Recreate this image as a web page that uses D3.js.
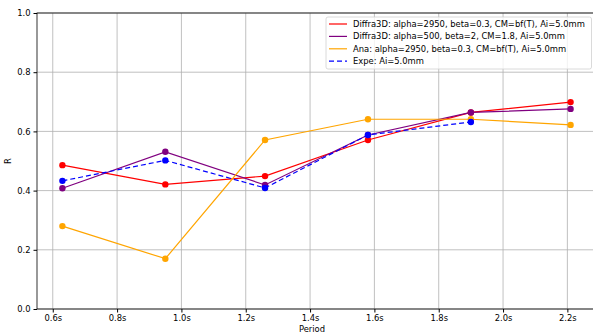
<!DOCTYPE html>
<html>
<head>
<meta charset="utf-8">
<script src="https://cdn.jsdelivr.net/npm/d3@7"></script>
<style>
  body { margin: 0; background: #fff; }
  svg { display: block; font-family: "DejaVu Sans", sans-serif; }
</style>
</head>
<body>
<svg width="593" height="333"></svg>
<script>
// periods (s)
var periods = [0.63, 0.95, 1.26, 1.58, 1.9, 2.21];
var diffraRed = [0.486, 0.421, 0.449, 0.571, 0.664, 0.699];
var diffraPurple = [0.408, 0.531, 0.419, 0.588, 0.664, 0.676];
var anaOrange = [0.280, 0.170, 0.571, 0.641, 0.641, 0.622];
var expeBlue = [0.433, 0.502, 0.409, 0.588, 0.632];
var xTicks = [0.6, 0.8, 1.0, 1.2, 1.4, 1.6, 1.8, 2.0, 2.2];
var yTicks = [0.0, 0.2, 0.4, 0.6, 0.8, 1.0];

var series = [
  { name: "Diffra3D: alpha=2950, beta=0.3, CM=bf(T), Ai=5.0mm", values: diffraRed, colour: "red", dash: null },
  { name: "Diffra3D: alpha=500, beta=2, CM=1.8, Ai=5.0mm", values: diffraPurple, colour: "purple", dash: null },
  { name: "Ana: alpha=2950, beta=0.3, CM=bf(T), Ai=5.0mm", values: anaOrange, colour: "orange", dash: null },
  { name: "Expe: Ai=5.0mm", values: expeBlue, colour: "blue", dash: "5,3" }
];

const margin = { top: 13, right: -3, bottom: 24, left: 37 };
const width = 593, height = 333;
const fontSize = 8.4;

var svg = d3.select('svg');

var x = d3.scaleLinear()
  .domain([0.551, 2.289])
  .range([margin.left, width - margin.right]);
var y = d3.scaleLinear()
  .domain([0, 1])
  .range([height - margin.bottom, margin.top]);

// grid
svg.append('g')
  .selectAll('line.vgrid')
  .data(xTicks)
  .enter()
  .append('line')
  .attr('x1', d => x(d)).attr('x2', d => x(d))
  .attr('y1', y(0)).attr('y2', y(1))
  .attr('stroke', '#b0b0b0').attr('stroke-width', 0.8);

svg.append('g')
  .selectAll('line.hgrid')
  .data(yTicks)
  .enter()
  .append('line')
  .attr('x1', x.range()[0]).attr('x2', x.range()[1])
  .attr('y1', d => y(d)).attr('y2', d => y(d))
  .attr('stroke', '#b0b0b0').attr('stroke-width', 0.8);

// axes
var xAxis = d3.axisBottom(x)
  .tickValues(xTicks)
  .tickSize(3.5)
  .tickPadding(3)
  .tickFormat(d => d3.format('.1f')(d) + 's');

var yAxis = d3.axisLeft(y)
  .tickValues(yTicks)
  .tickSize(3.5)
  .tickPadding(3)
  .tickFormat(d3.format('.1f'));

svg.append('g')
  .attr('transform', `translate(0, ${y(0)})`)
  .call(xAxis)
  .call(g => g.select('.domain').remove())
  .call(g => g.selectAll('text').attr('font-size', fontSize).attr('fill', '#000').attr('font-family', 'DejaVu Sans'));

svg.append('g')
  .attr('transform', `translate(${x.range()[0]}, 0)`)
  .call(yAxis)
  .call(g => g.select('.domain').remove())
  .call(g => g.selectAll('text').attr('font-size', fontSize).attr('fill', '#000').attr('font-family', 'DejaVu Sans'));

// spines
svg.append('rect')
  .attr('x', x.range()[0]).attr('y', y(1))
  .attr('width', x.range()[1] - x.range()[0])
  .attr('height', y(0) - y(1))
  .attr('fill', 'none').attr('stroke', '#000').attr('stroke-width', 0.8);

// lines
var line = d3.line()
  .x((d, i) => x(periods[i]))
  .y(d => y(d));

series.forEach(function (s) {
  svg.append('path')
    .datum(s.values)
    .attr('d', line)
    .attr('fill', 'none')
    .attr('stroke', s.colour)
    .attr('stroke-width', 1.2)
    .attr('stroke-dasharray', s.dash);

  svg.append('g')
    .selectAll('circle')
    .data(s.values)
    .enter()
    .append('circle')
    .attr('cx', (d, i) => x(periods[i]))
    .attr('cy', d => y(d))
    .attr('r', 3.2)
    .attr('fill', s.colour);
});

// axis labels
svg.append('text')
  .attr('x', (margin.left + width) / 2 - 3)
  .attr('y', 332)
  .attr('text-anchor', 'middle')
  .attr('font-size', fontSize)
  .text('Period');

svg.append('text')
  .attr('transform', `translate(11, ${(y(0) + y(1)) / 2}) rotate(-90)`)
  .attr('text-anchor', 'middle')
  .attr('font-size', fontSize)
  .text('R');

// legend
var legend = svg.append('g').attr('transform', 'translate(326, 17)');
legend.append('rect')
  .attr('width', 265.5).attr('height', 52)
  .attr('rx', 2)
  .attr('fill', 'rgba(255,255,255,0.8)')
  .attr('stroke', '#d0d0d0').attr('stroke-width', 0.8);

var items = legend.selectAll('.item')
  .data(series)
  .enter()
  .append('g')
  .attr('transform', (d, i) => `translate(0, ${7 + i * 12.4})`);

items.append('line')
  .attr('x1', 3).attr('x2', 21)
  .attr('y1', 0).attr('y2', 0)
  .attr('stroke', d => d.colour)
  .attr('stroke-width', 1.2)
  .attr('stroke-dasharray', d => d.dash);

items.append('text')
  .attr('x', 27)
  .attr('y', 3)
  .attr('font-size', fontSize)
  .text(d => d.name);
</script>
</body>
</html>
